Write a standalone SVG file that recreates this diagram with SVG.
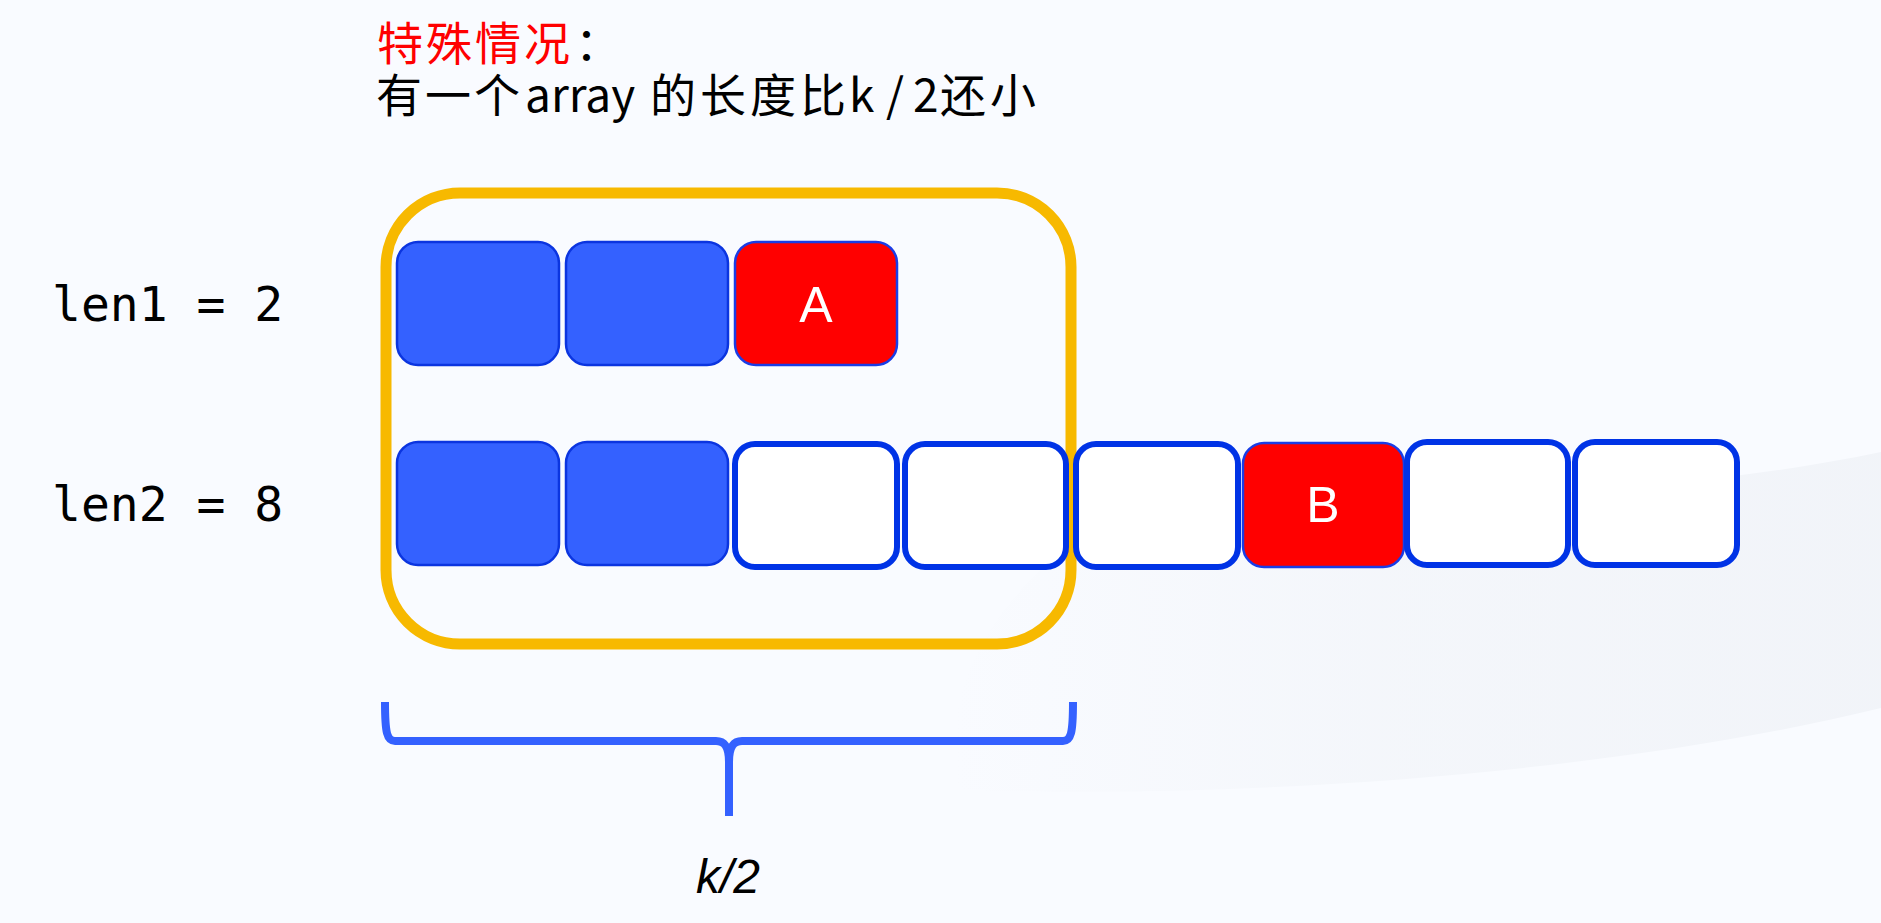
<svg xmlns="http://www.w3.org/2000/svg" width="1881" height="923" viewBox="0 0 1881 923">
<defs>
<linearGradient id="swoosh" x1="0" y1="0" x2="1" y2="0">
<stop offset="0" stop-color="#eef1f6" stop-opacity="0"/>
<stop offset="0.45" stop-color="#eef1f6" stop-opacity="0.45"/>
<stop offset="1" stop-color="#eef1f6" stop-opacity="0.7"/>
</linearGradient>
<style>
.cjk{font-family:"Noto Sans CJK SC","Noto Sans",sans-serif;font-size:46px;fill:#000}
.mono{font-family:"DejaVu Sans Mono","Liberation Mono",monospace;font-size:48px;fill:#000}
.lbl{font-family:"Liberation Sans",Arial,sans-serif;font-size:50px;fill:#fff;text-anchor:middle}
.blue{fill:#3461ff;stroke:#0b35e0;stroke-width:2.5}
.red{fill:#ff0000;stroke:#1a3de6;stroke-width:2.5}
.white{fill:#ffffff;stroke:#0033e6;stroke-width:6}
.brace{fill:none;stroke:#3461ff;stroke-width:8;stroke-linejoin:round}
</style>
</defs>
<rect x="0" y="0" width="1881" height="923" fill="#f9fbff"/>
<path d="M1881,452 C1700,490 1450,505 1150,505 C1000,560 930,700 960,790 C1300,800 1650,765 1881,708 Z" fill="url(#swoosh)"/>

<g id="title">
<text class="cjk" x="377" y="60" letter-spacing="3" style="fill:#ff0000">特殊情况</text>
<text class="cjk" x="575" y="60">：</text>
<text class="cjk" x="376" y="112" letter-spacing="3">有一个</text>
<text class="cjk" x="525" y="112">array</text>
<text class="cjk" x="650" y="112" letter-spacing="4">的长度比</text>
<text class="cjk" x="849" y="112">k</text>
<text class="cjk" x="886" y="112">/</text>
<text class="cjk" x="913" y="112">2</text>
<text class="cjk" x="940" y="112" letter-spacing="4">还小</text>
</g>

<g id="labels">
<text class="mono" x="52" y="321">len1 = 2</text>
<text class="mono" x="52" y="521">len2 = 8</text>
</g>

<g id="window">
<rect x="386" y="193" width="685" height="451" rx="74" ry="74" fill="none" stroke="#f7b900" stroke-width="11"/>
</g>

<g id="array1">
<g id="a1-0"><rect class="blue" x="397" y="242" width="162" height="123" rx="21"/></g>
<g id="a1-1"><rect class="blue" x="566" y="242" width="162" height="123" rx="21"/></g>
<g id="a1-2"><rect class="red" x="735" y="242" width="162" height="123" rx="21"/><text class="lbl" x="816" y="322">A</text></g>
</g>

<g id="array2">
<g id="a2-0"><rect class="blue" x="397" y="442" width="162" height="123" rx="21"/></g>
<g id="a2-1"><rect class="blue" x="566" y="442" width="162" height="123" rx="21"/></g>
<g id="a2-2"><rect class="white" x="735" y="444" width="162" height="123" rx="20"/></g>
<g id="a2-3"><rect class="white" x="905" y="444" width="161" height="123" rx="20"/></g>
<g id="a2-4"><rect class="white" x="1076" y="444" width="162" height="123" rx="20"/></g>
<g id="a2-5"><rect class="red" x="1243" y="443" width="161" height="124" rx="21"/><text class="lbl" x="1323" y="522">B</text></g>
<g id="a2-6"><rect class="white" x="1407" y="442" width="161" height="123" rx="20"/></g>
<g id="a2-7"><rect class="white" x="1575" y="442" width="162" height="123" rx="20"/></g>
</g>

<g id="connectors">
<path class="brace" d="M385,702 C385,733 387,741 395,741 L716,741 C724,741 729,746 729,762 L729,816"/>
<path class="brace" d="M1073,702 C1073,733 1071,741 1063,741 L742,741 C734,741 729,746 729,762"/>
</g>

<g id="brace-label">
<text x="728" y="893" font-family="'Liberation Sans',Arial,sans-serif" font-size="48" font-style="italic" text-anchor="middle" fill="#000">k/2</text>
</g>
</svg>
